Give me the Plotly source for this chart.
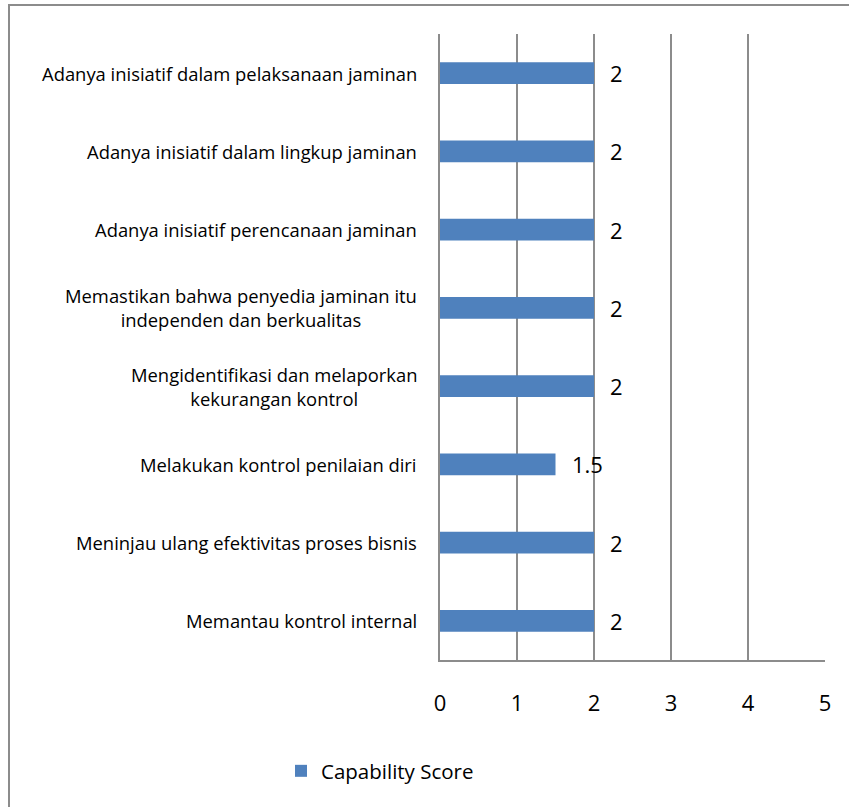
import plotly.graph_objects as go

categories = [
    "Memantau kontrol internal",
    "Meninjau ulang efektivitas proses bisnis",
    "Melakukan kontrol penilaian diri",
    "Mengidentifikasi dan melaporkan<br>kekurangan kontrol",
    "Memastikan bahwa penyedia jaminan itu<br>independen dan berkualitas",
    "Adanya inisiatif perencanaan jaminan",
    "Adanya inisiatif dalam lingkup jaminan",
    "Adanya inisiatif dalam pelaksanaan jaminan",
]
scores = [2, 2, 1.5, 2, 2, 2, 2, 2]
x_ticks = [0, 1, 2, 3, 4, 5]
series_name = "Capability Score"

W, H = 849, 807
L, R, T, B = 440, 24, 34, 147
pw, ph = W - L - R, H - T - B

FONT = "Open Sans"
BAR = "#4F81BD"
GRID = "#8C8C8C"

fig = go.Figure()
fig.add_trace(go.Bar(
    y=categories, x=scores, orientation="h", name=series_name,
    marker=dict(color=BAR, line=dict(width=0)),
    showlegend=True,
))

annotations = []
for c, v in zip(categories, scores):
    annotations.append(dict(
        x=0, xref="paper", y=c, yref="y", text=c, showarrow=False,
        xanchor="right", yanchor="middle", align="center", xshift=-21,
        font=dict(family=FONT, size=18.4, color="#000000"),
    ))
    annotations.append(dict(
        x=v, xref="x", y=c, yref="y", text=f"{v:g}", showarrow=False,
        xanchor="left", yanchor="middle", xshift=14,
        font=dict(family=FONT, size=22, color="#000000"),
    ))


def px_to_paper_x(p):
    return (p - L) / pw


def px_to_paper_y(p):
    return (H - B - p) / ph


fig.update_layout(
    width=W, height=H,
    margin=dict(l=L, r=R, t=T, b=B, pad=0),
    paper_bgcolor="white", plot_bgcolor="white",
    bargap=0.72,
    font=dict(family=FONT, color="#000000"),
    xaxis=dict(
        range=[0, 5], tickvals=x_ticks, showgrid=True, gridcolor=GRID, gridwidth=1.8,
        showline=True, linecolor=GRID, linewidth=1.8, zeroline=False,
        ticks="", ticklabelstandoff=23, tickfont=dict(family=FONT, size=22),
        fixedrange=True,
    ),
    yaxis=dict(
        categoryorder="array", categoryarray=categories,
        showticklabels=False, showgrid=False, showline=True, linecolor=GRID,
        linewidth=1.8, ticks="", zeroline=False, range=[-0.5, 7.5],
    ),
    legend=dict(
        orientation="h", x=px_to_paper_x(380), xref="paper", xanchor="center",
        y=px_to_paper_y(771), yanchor="middle",
        font=dict(family=FONT, size=20.5), itemwidth=30, bgcolor="rgba(0,0,0,0)",
    ),
    annotations=annotations,
    shapes=[dict(
        type="rect", xref="paper", yref="paper",
        x0=px_to_paper_x(9), x1=px_to_paper_x(870),
        y0=px_to_paper_y(830), y1=px_to_paper_y(5),
        line=dict(color=GRID, width=2), fillcolor="rgba(0,0,0,0)", layer="below",
    )],
)

fig.write_html("out.html")
